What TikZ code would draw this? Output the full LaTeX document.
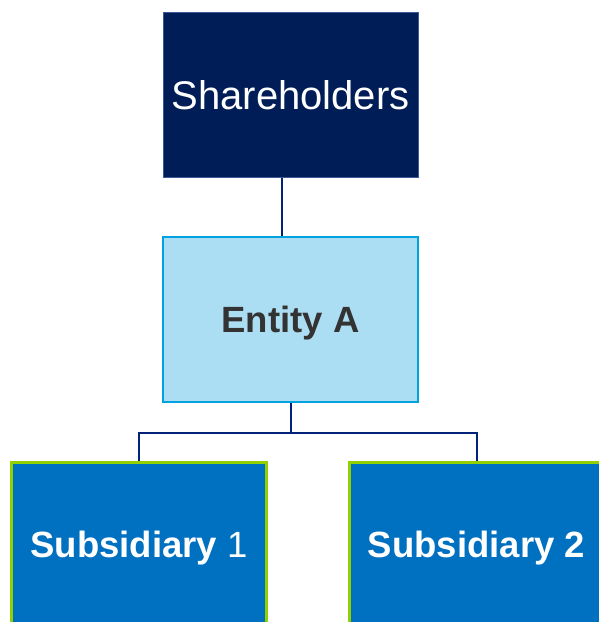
\documentclass[tikz,border=0pt]{standalone}
\usepackage{fontspec}
\setmainfont{Liberation Sans}
\definecolor{navyfill}{RGB}{0,29,88}
\definecolor{navyedge}{RGB}{60,90,150}
\definecolor{linkblue}{RGB}{0,35,120}
\definecolor{entityfill}{RGB}{171,222,242}
\definecolor{entityedge}{RGB}{0,162,224}
\definecolor{subfill}{RGB}{0,112,192}
\definecolor{subedge}{RGB}{146,208,0}
\definecolor{darktext}{RGB}{51,51,51}
\begin{document}
\begin{tikzpicture}[x=1pt,y=-1pt,
  orgbox/.style={rectangle, minimum width=255pt, minimum height=165pt,
    inner sep=0pt, align=center},
  topbox/.style={orgbox, fill=navyfill, draw=navyedge, line width=1pt,
    text=white, font=\fontsize{40}{48}\selectfont},
  midbox/.style={orgbox, fill=entityfill, draw=entityedge, line width=2pt,
    text=darktext, text depth=0pt, font=\fontsize{36.5}{44}\selectfont\bfseries},
  subbox/.style={orgbox, fill=subfill, draw=subedge, line width=3pt,
    text=white, text depth=0pt, font=\fontsize{36.5}{44}\selectfont\bfseries},
  link/.style={draw=linkblue, line width=2pt}]
\useasboundingbox (0,0) rectangle (599,622);
\clip (0,0) rectangle (599,622);

% boxes of the structure
\node[topbox] (sh) at (290.5,95) {Shareholders};
\node[midbox] (ea) at (290.5,319.5) {Entity A};
\node[subbox] (s1) at (139,544.5) {Subsidiary \mdseries 1};
\node[subbox] (s2) at (476.5,544.5) {Subsidiary 2};

% connectors
\draw[link] ([xshift=-9pt]sh.south) -- ([xshift=-9pt]ea.north);
\coordinate (split) at ([yshift=-29.5pt]ea.south);
\draw[link] (ea.south) -- (split);
\draw[link] (split) -| (s1.north);
\draw[link] (split) -| (s2.north);
\end{tikzpicture}
\end{document}
